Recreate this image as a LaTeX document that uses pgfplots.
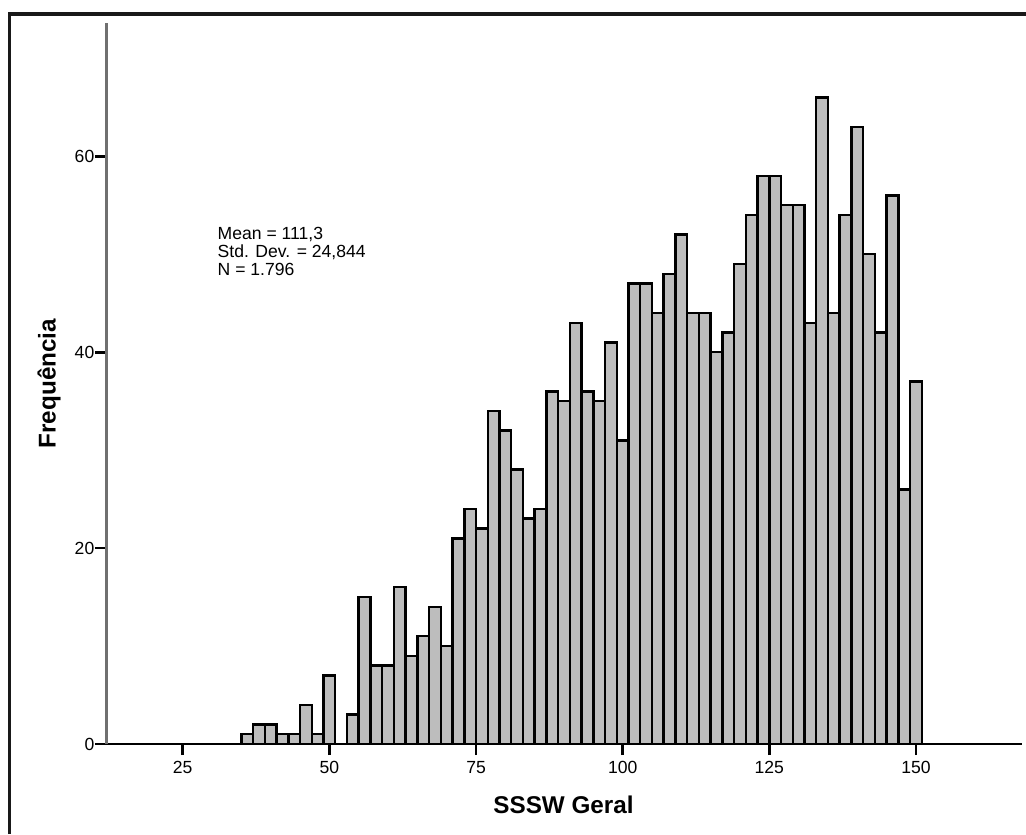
\documentclass[border=0pt]{standalone}
\usepackage{fontspec}
\setmainfont{Liberation Sans}
\usepackage{pgfplots}
\pgfplotsset{compat=1.18}
\definecolor{bargray}{HTML}{BDBDBD}
\definecolor{axisgray}{HTML}{707070}

\begin{document}
\begin{tikzpicture}
\useasboundingbox (0,0) rectangle (20.52cm,16.68cm);
% outer frame (only top and left edges are visible)
\draw[line width=2pt, black!90] (0.19cm,0) -- (0.19cm,16.40cm) -- (20.52cm,16.40cm);
\begin{axis}[
    at={(2.13cm,1.8cm)}, anchor=south west,
    scale only axis,
    width=18.3cm, height=14.42cm,
    xmin=12, xmax=168,
    ymin=0, ymax=73.6,
    axis x line*=bottom, axis y line*=left,
    x axis line style={black, line width=1.1pt},
    y axis line style={axisgray, line width=1.2pt},
    xtick={25,50,...,150},
    ytick={0,20,40,60},
    tick align=outside,
    major tick length=0.22cm,
    tick style={black, line width=1.6pt},
    ticklabel style={font=\fontsize{10}{12}\selectfont},
    yticklabel style={xshift=0.1cm},
    /pgf/number format/assume math mode=true,
    xlabel={\textbf{SSSW Geral}},
    ylabel={\textbf{Frequência}},
    xlabel style={font=\fontsize{13.8}{16}\selectfont, at={(axis description cs:0.4995,-0.0846)}, anchor=center},
    ylabel style={font=\fontsize{13.8}{16}\selectfont, at={(axis description cs:-0.0628,0.5)}, anchor=center, rotate=0},
    clip=false,
]
\addplot[ybar interval, fill=bargray, draw=black, line width=1.4pt] coordinates {
    (35,1) (37,2) (39,2) (41,1) (43,1) (45,4) (47,1) (49,7)
    (51,0) (53,3) (55,15) (57,8) (59,8) (61,16) (63,9) (65,11)
    (67,14) (69,10) (71,21) (73,24) (75,22) (77,34) (79,32) (81,28)
    (83,23) (85,24) (87,36) (89,35) (91,43) (93,36) (95,35) (97,41)
    (99,31) (101,47) (103,47) (105,44) (107,48) (109,52) (111,44) (113,44)
    (115,40) (117,42) (119,49) (121,54) (123,58) (125,58) (127,55) (129,55)
    (131,43) (133,66) (135,44) (137,54) (139,63) (141,50) (143,42) (145,56)
    (147,26) (149,37) (151,37)
};
\node[anchor=west, align=left, inner sep=0pt, font=\fontsize{10}{10.2}\selectfont]
    at (axis cs:30.9,50.3) {Mean = 111,3\\Std. Dev. = 24,844\\N = 1.796};
\end{axis}
\end{tikzpicture}
\end{document}
